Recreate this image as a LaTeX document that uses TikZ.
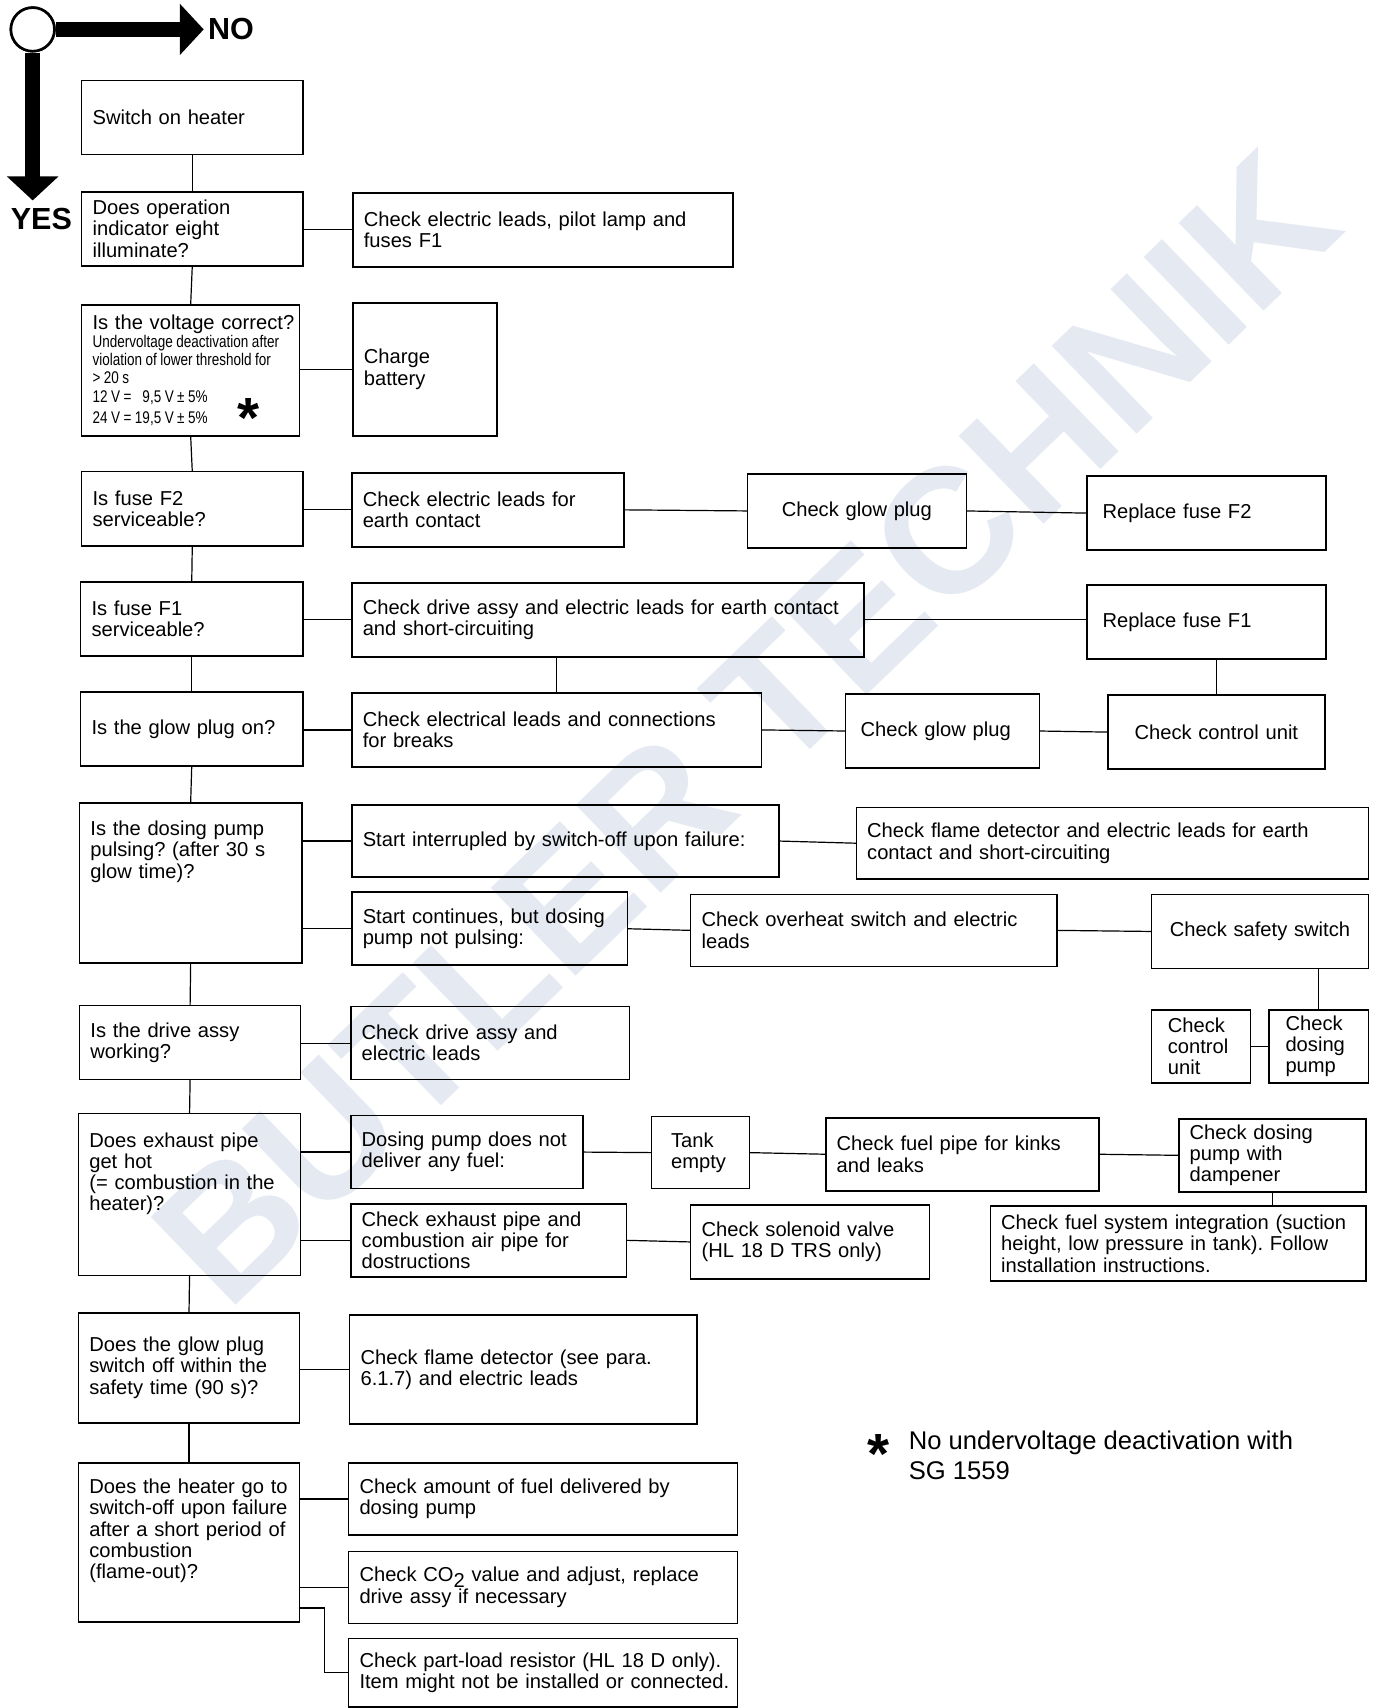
\documentclass[tikz,border=0pt]{standalone}
\usepackage{fontspec}
\setmainfont{Liberation Sans}
\newfontfamily\narrowfont{Liberation Sans}[FakeStretch=0.8]
\usetikzlibrary{calc}
\usetikzlibrary{arrows.meta}
\definecolor{wmark}{RGB}{229,233,242}
\frenchspacing

\begin{document}
\begin{tikzpicture}[x=1pt, y=-1pt,
        box/.style 2 args={draw, line width=1.4pt, anchor=north west, outer sep=0pt,
            minimum width=#1pt, minimum height=#2pt, text width={(#1-20)*1pt},
            inner xsep=10pt, inner ysep=3pt, align=left,
            execute at begin node={\rightskip=0pt plus 1fil minus 1000pt\relax},
            font=\fontsize{18.5}{19.5}\selectfont},
        mid/.style={execute at begin node={\leftskip=0pt plus 1fil\parfillskip=0pt\relax}},
        indent/.style={execute at begin node={\leftskip=#1\relax}},
        link/.style={line width=1.1pt},
        bigarrow/.style={line width=14pt, -{Triangle[length=22pt,width=46pt]}},
        star/.style={font=\fontsize{52}{52}\bfseries\selectfont, inner sep=0pt}]

        % Page and watermark
        \fill[white] (0,0) rectangle (1264,1567.8);
        \useasboundingbox (0,0) rectangle (1264,1567.8);
        \node[rotate=44, text=wmark, font=\fontsize{163}{163}\bfseries\selectfont] (wm) at (684,668) {BUTLER TECHNIK};

        % Yes / no key
        \coordinate (noend) at (187,27);
        \coordinate (yesend) at (30,184);
        \node[circle, draw, line width=2.4pt, fill=white, minimum size=40pt] (key) at (30,27) {};
        \draw[bigarrow] (key.east) -- (noend);
        \draw[bigarrow] (key.south) -- (yesend);
        \node[circle, draw, line width=2.4pt, fill=white, minimum size=40pt] at (key) {};
        \node[font=\fontsize{28}{28}\bfseries\selectfont] (no) at (212,27) {NO};
        \node[font=\fontsize{28}{28}\bfseries\selectfont] (yes) at (38,201) {YES};

        % Questions
        \node[box={203}{68}] (q1) at (75,74) {Switch on heater};
        \node[box={203}{68}] (q2) at (75,176) {Does operation\\indicator eight\\illuminate?};
        \node[box={200}{120}, text height=19pt, text depth=95pt, inner xsep=9pt] (q3) at (75,280) {\mbox{Is the voltage correct?}\\\narrowfont\fontsize{15.5}{16.8}\selectfont\spaceskip=3.2pt plus 1pt minus 0.5pt Undervoltage deactivation after\\violation of lower threshold for\\> 20 s\\12 V = \phantom{1}9,5 V ± 5\%\\24 V = 19,5 V ± 5\%};
        \node[box={203}{68}] (q4) at (75,433) {Is fuse F2\\serviceable?};
        \node[box={204}{68}] (q5) at (74,534) {Is fuse F1\\serviceable?};
        \node[box={204}{68}] (q6) at (74,635) {Is the glow plug on?};
        \node[box={204}{147}, text height=27pt, text depth=114pt] (q7) at (73,737) {Is the dosing pump\\pulsing? (after 30 s\\glow time)?};
        \node[box={203}{68}] (q8) at (73,923) {Is the drive assy\\working?};
        \node[box={204}{149}, text height=28pt, text depth=115pt] (q9) at (72,1022) {Does exhaust pipe\\get hot\\(= combustion in the\\heater)?};
        \node[box={203}{101}] (q10) at (72,1205) {Does the glow plug\\switch off within the\\safety time (90 s)?};
        \node[box={203}{146}, text height=25pt, text depth=115pt] (q11) at (72,1343) {Does the heater go to\\switch-off upon failure\\after a short period of\\combustion\\(flame-out)?};

        % Remedies
        \node[box={349}{68}] (r2) at (324,177) {Check electric leads, pilot lamp and\\fuses F1};
        \node[box={132}{122}, inner xsep=8pt] (r3) at (324,278) {Charge\\battery};
        \node[box={250}{68}] (r4) at (323,434) {Check electric leads for\\earth contact};
        \node[box={201}{68}, mid] (g4) at (686,435) {Check glow plug};
        \node[box={219}{68}, indent=4pt] (f2) at (998,437) {Replace fuse F2};
        \node[box={470}{68}] (r5) at (323,535) {Check drive assy and electric leads for earth contact\\and short-circuiting};
        \node[box={219}{68}, indent=4pt] (f1) at (998,537) {Replace fuse F1};
        \node[box={376}{68}] (r6) at (323,636) {Check electrical leads and connections\\for breaks};
        \node[box={178}{68}, indent=4pt] (g6) at (776,637) {Check glow plug};
        \node[box={199}{68}, mid] (cu6) at (1017,638) {Check control unit};
        \node[box={392}{66}] (s1) at (323,739) {Start interrupled by switch-off upon failure:};
        \node[box={470}{66}] (fd) at (786,741) {Check flame detector and electric leads for earth\\contact and short-circuiting};
        \node[box={253}{67}] (s2) at (323,819) {Start continues, but dosing\\pump not pulsing:};
        \node[box={336}{66}] (oh) at (634,821) {Check overheat switch and electric\\leads};
        \node[box={199}{68}, mid] (sw) at (1057,821) {Check safety switch};
        \node[box={91}{67}, indent=5pt] (u1) at (1057,927) {Check\\control\\unit};
        \node[box={91}{67}, indent=5pt] (u2) at (1165,927) {Check\\dosing\\pump};
        \node[box={256}{67}] (r8) at (322,924) {Check drive assy and\\electric leads};
        \node[box={213}{67}] (d1) at (322,1024) {Dosing pump does not\\deliver any fuel:};
        \node[box={90}{66}, indent=8pt] (tank) at (598,1025) {Tank\\empty};
        \node[box={251}{67}] (fp) at (758,1026) {Check fuel pipe for kinks\\and leaks};
        \node[box={172}{67}] (dmp) at (1082,1027) {Check dosing\\pump with\\dampener};
        \node[box={253}{67}] (ex) at (322,1105) {Check exhaust pipe and\\combustion air pipe for\\dostructions};
        \node[box={219}{68}] (sol) at (634,1106) {Check solenoid valve\\(HL 18 D TRS only)};
        \node[box={345}{69}, inner xsep=8pt] (fs) at (909,1107) {Check fuel system integration (suction\\height, low pressure in tank). Follow\\installation instructions.};
        \node[box={319}{100}] (r10) at (321,1207) {Check flame detector (see para.\\6.1.7) and electric leads};
        \node[box={357}{66}] (a1) at (320,1343) {Check amount of fuel delivered by\\dosing pump};
        \node[box={357}{66}] (co) at (320,1424) {Check CO\raisebox{-5pt}{2} value and adjust, replace\\drive assy if necessary};
        \node[box={357}{63}, inner xsep=8pt] (pl) at (320,1504) {Check part-load resistor (HL 18 D only).\\Item might not be installed or connected.};

        % Asterisks and footnote
        \node[star] (vstar) at (228,384) {*};
        \node[star] (fstar) at (806,1335) {*};
        \node[anchor=north west, align=left, inner sep=0pt, font=\fontsize{23.5}{28}\selectfont] (note) at (834,1313) {No undervoltage deactivation with\\SG 1559};

        % Main spine
        \draw[link] (q1.south) -- (q2.north);
        \draw[link] (q2.south) -- (q3.north);
        \draw[link] (q3.south) -- (q4.north);
        \draw[link] (q4.south) -- (q5.north);
        \draw[link] (q5.south) -- (q6.north);
        \draw[link] (q6.south) -- (q7.north);
        \draw[link] (q7.south) -- (q8.north);
        \draw[link] (q8.south) -- (q9.north);
        \draw[link] (q9.south) -- (q10.north);
        \draw[link] (q10.south) -- (q11.north);

        % Branches
        \draw[link] (q2.east |- r2.west) -- (r2.west);
        \draw[link] (q3.east |- r3.west) -- (r3.west);
        \draw[link] (q4.east |- r4.west) -- (r4.west);
        \draw[link] (r4.east) -- (g4.west);
        \draw[link] (g4.east) -- (f2.west);
        \draw[link] (q5.east |- r5.west) -- (r5.west);
        \draw[link] (r5.east) -- (r5.east -| f1.west);
        \draw[link] (r6.north) -- (r6.north |- r5.south);
        \draw[link] (cu6.north) -- (cu6.north |- f1.south);
        \draw[link] (q6.east |- r6.west) -- (r6.west);
        \draw[link] (r6.east) -- (g6.west);
        \draw[link] (g6.east) -- (cu6.west);
        \draw[link] (q7.east |- s1.west) -- (s1.west);
        \draw[link] (s1.east) -- (fd.west);
        \draw[link] (q7.east |- s2.west) -- (s2.west);
        \draw[link] (s2.east) -- (oh.west);
        \draw[link] (oh.east) -- (sw.west);
        \draw[link] (u2.north) -- (u2.north |- sw.south);
        \draw[link] (u1.east) -- (u2.west);
        \draw[link] (q8.east |- r8.west) -- (r8.west);
        \draw[link] (q9.east |- d1.west) -- (d1.west);
        \draw[link] (d1.east) -- (tank.west);
        \draw[link] (tank.east) -- (fp.west);
        \draw[link] (fp.east) -- (dmp.west);
        \draw[link] (dmp.south) -- (dmp.south |- fs.north);
        \draw[link] (q9.east |- ex.west) -- (ex.west);
        \draw[link] (ex.east) -- (sol.west);
        \draw[link] (q10.east |- r10.west) -- (r10.west);
        \draw[link] (q11.east |- a1.west) -- (a1.west);
        \draw[link] (q11.east |- co.west) -- (co.west);
        \coordinate (elb) at (298,1476);
        \draw[link] (q11.east |- elb) -- (elb) |- (pl.west);

\end{tikzpicture}
\end{document}
